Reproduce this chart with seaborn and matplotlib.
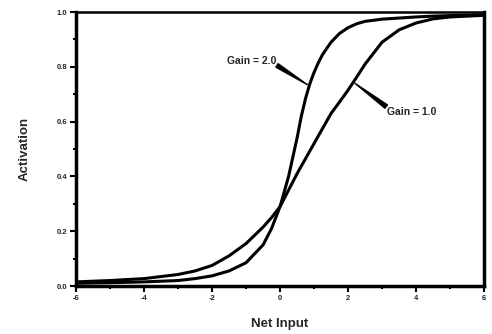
import matplotlib
matplotlib.use("Agg")
import matplotlib.pyplot as plt
import seaborn as sns
import numpy as np
import pandas as pd

# values
net_input = [-6, -5, -4, -3, -2.5, -2, -1.5, -1, -0.5, -0.25, 0, 0.25, 0.5, 0.625,
             0.75, 0.875, 1.0, 1.125, 1.25, 1.5, 1.75, 2.0, 2.25, 2.5, 3.0, 3.5,
             4.0, 4.5, 5.0, 6.0]
act_gain2 = [0.010, 0.012, 0.015, 0.020, 0.027, 0.037, 0.055, 0.085, 0.150, 0.210,
             0.290, 0.400, 0.540, 0.620, 0.685, 0.738, 0.780, 0.815, 0.845, 0.890,
             0.922, 0.943, 0.957, 0.966, 0.974, 0.978, 0.982, 0.985, 0.987, 0.990]
act_gain1 = [0.015, 0.020, 0.027, 0.042, 0.055, 0.075, 0.110, 0.155, 0.215, 0.250,
             0.290, 0.350, 0.410, 0.438, 0.465, 0.493, 0.520, 0.548, 0.575, 0.630,
             0.672, 0.715, 0.762, 0.810, 0.890, 0.935, 0.960, 0.975, 0.982, 0.988]
gain_labels = ["Gain = 2.0", "Gain = 1.0"]

df = pd.DataFrame({
    "x": net_input * 2,
    "y": act_gain2 + act_gain1,
    "gain": [gain_labels[0]] * len(net_input) + [gain_labels[1]] * len(net_input),
})

sns.set_style("ticks")
plt.rcParams['font.family'] = ['Liberation Sans', 'DejaVu Sans']
plt.rcParams['font.weight'] = 'bold'

fig = plt.figure(figsize=(4.92, 3.34), dpi=100)
ax = fig.add_axes([0.1545, 0.1437, 0.8295, 0.8203])

sns.lineplot(data=df, x="x", y="y", hue="gain", palette=["black", "black"],
             linewidth=2.2, legend=False, ax=ax)

ax.set_xlim(-6, 6)
ax.set_ylim(0, 1)
ax.set_xticks([-6, -4, -2, 0, 2, 4, 6])
ax.set_xticklabels(["-6", "-4", "-2", "0", "2", "4", "6"])
ax.set_yticks([0, 0.2, 0.4, 0.6, 0.8, 1.0])
ax.set_yticklabels(["0.0", "0.2", "0.4", "0.6", "0.8", "1.0"])
ax.set_xticks(np.arange(-6, 7, 1), minor=True)
ax.set_yticks(np.arange(0, 1.01, 0.1), minor=True)
ax.tick_params(axis='both', which='major', direction='out', length=4, width=1.5,
               labelsize=5.5, color='black', pad=2.5)
ax.tick_params(axis='both', which='minor', direction='out', length=2.5, width=1.5,
               color='black')
for lab in ax.get_xticklabels() + ax.get_yticklabels():
    lab.set_fontweight('bold')

for side in ['left', 'bottom', 'right']:
    ax.spines[side].set_linewidth(2.5)
    ax.spines[side].set_color('black')
ax.spines['top'].set_linewidth(1.8)
ax.spines['top'].set_color('black')

ax.set_xlabel("Net Input", fontsize=9.5, fontweight='bold')
ax.set_ylabel("Activation", fontsize=9.5, fontweight='bold')
ax.xaxis.set_label_coords(0.5, -0.115)
ax.yaxis.set_label_coords(-0.112, 0.50)

ax.text(-0.12, 0.82, gain_labels[0], fontsize=7.5, fontweight='bold',
        ha='right', va='center')
ax.text(3.15, 0.635, gain_labels[1], fontsize=7.5, fontweight='bold',
        ha='left', va='center')
arrow = dict(arrowstyle='wedge,tail_width=0.3,shrink_factor=0.5',
             color='black', shrinkA=0, shrinkB=0)
ax.annotate("", xy=(0.80, 0.735), xytext=(-0.09, 0.805), arrowprops=arrow)
ax.annotate("", xy=(2.20, 0.74), xytext=(3.12, 0.655), arrowprops=arrow)

fig.savefig("out.png", dpi=100)
